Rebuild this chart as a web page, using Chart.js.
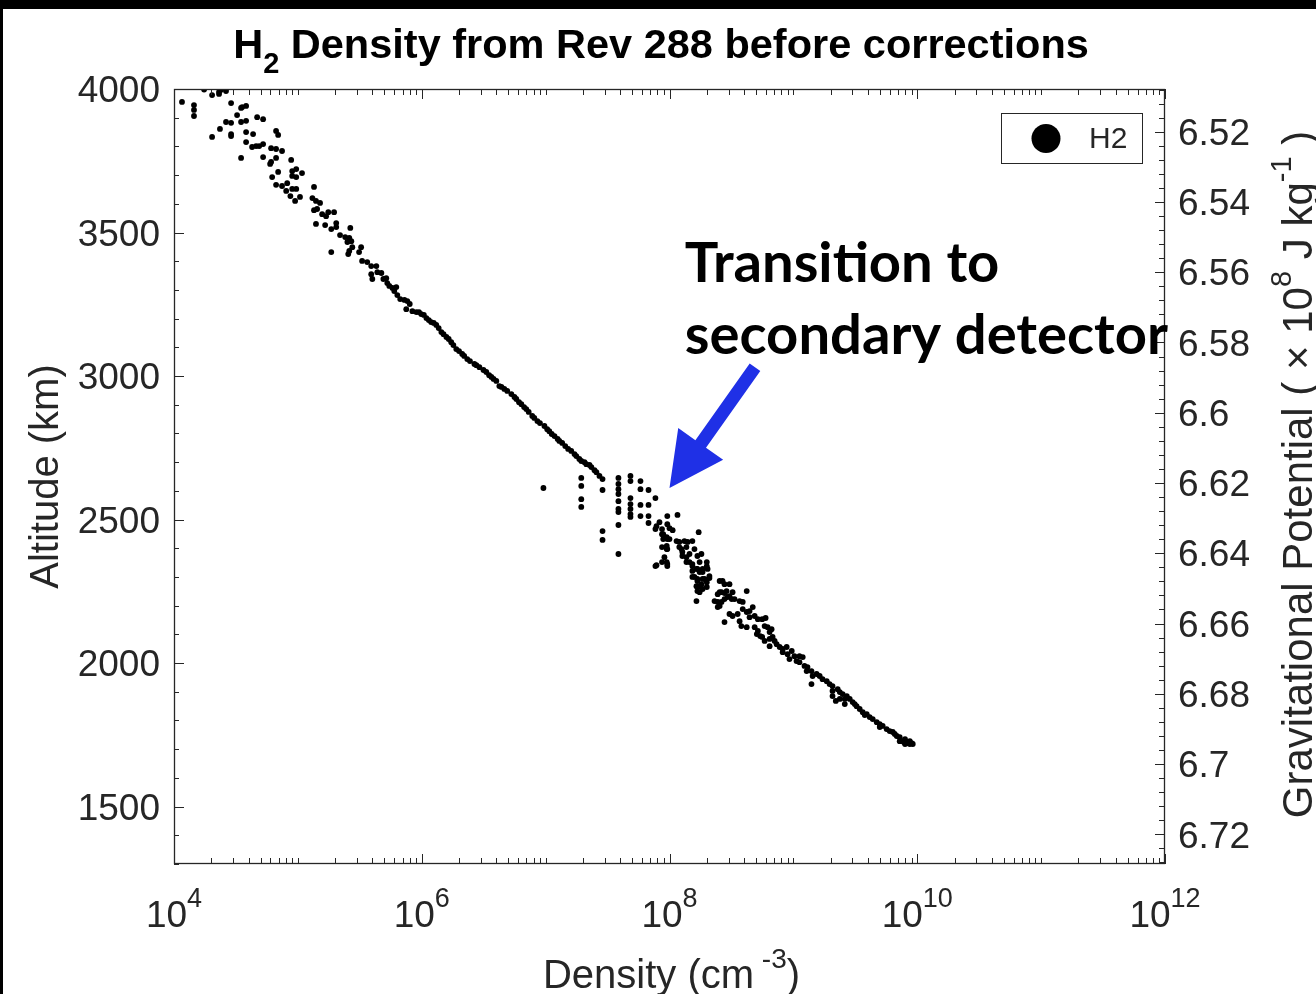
<!DOCTYPE html>
<html><head><meta charset="utf-8">
<script src="https://cdn.jsdelivr.net/npm/chart.js@4.4.1/dist/chart.umd.min.js"></script>
<style>html,body{margin:0;padding:0;background:#fff;overflow:hidden}canvas{display:block}</style>
</head><body>
<canvas id="c" width="1316" height="994"></canvas>
<script>
// ---- data: [density (cm^-3), altitude (km)] ----
const upperScatter = [
[1.16e4,3955],[1.45e4,3944],[1.45e4,3927],[1.45e4,3906],[1.75e4,3998],[2.03e4,3979],[2.31e4,3983],[2.31e4,3990],[2.4e4,3997],[2.63e4,3993],
[2.03e4,3833],[2.35e4,3861],[2.63e4,3885],[2.89e4,3951],[2.89e4,3882],[2.89e4,3843],[2.89e4,3836],[3.23e4,3909],[3.48e4,3934],[3.55e4,3937],
[3.82e4,3941],[3.48e4,3885],[3.82e4,3889],[3.48e4,3760],[3.82e4,3850],[3.82e4,3815],[4.35e4,3843],[4.69e4,3902],[5.24e4,3895],[4.27e4,3798],
[4.6e4,3801],[4.87e4,3801],[5.24e4,3808],[5.24e4,3763],[6.08e4,3794],[6.67e4,3791],[6.67e4,3854],[6.93e4,3840],[6.08e4,3746],[5.97e4,3739],
[6.67e4,3760],[7.45e4,3784],[6.2e4,3693],[6.93e4,3711],[8.83e4,3753],[9.0e4,3714],[9.7e4,3721],[9.0e4,3697],[9.7e4,3693],[1.08e5,3707],
[6.67e4,3666],[7.45e4,3662],[8.2e4,3672],[8.05e4,3645],[9.0e4,3652],[9.7e4,3652],[8.7e4,3627],[9.5e4,3610],[1.04e5,3624],[1.35e5,3659],
[1.31e5,3620],[1.40e5,3610],[1.51e5,3603],[1.35e5,3578],[1.43e5,3582],[1.57e5,3564],[1.69e5,3557],[1.76e5,3571],[1.96e5,3571],[1.40e5,3530],
[1.66e5,3526],[1.86e5,3512],[2.04e5,3533],[2.04e5,3519],[1.86e5,3432],[2.19e5,3491],[2.41e5,3484],[2.6e5,3481],[2.7e5,3470],[2.51e5,3467],
[2.65e5,3516],[2.75e5,3449],[2.6e5,3436],[2.55e5,3425],[3.24e5,3449],[3.12e5,3432],[3.3e5,3401],[3.63e5,3397],[3.91e5,3383],[4.3e5,3383],
[3.91e5,3355],[3.99e5,3338],[4.38e5,3362],[4.72e5,3359],[5.17e5,3341],[5.27e5,3324],[5.47e5,3314],[5.8e5,3307],[6.23e5,3310],[6.35e5,3282],
[6.7e5,3268],[7.25e5,3265],[7.65e5,3261],[7.5e5,3233],[8.4e5,3226],[9.05e5,3223],[9.9e5,3216],[1.09e6,3202],[1.19e6,3188],[1.31e6,3178],
[4.9e5,3338],[6.0e5,3296],[8.0e5,3251],[9.5e5,3223],[1.04e6,3213],[1.14e6,3195],[1.25e6,3185],[1.37e6,3167]
];
const mainLine = [
[1.44e6,3153],[1.5e6,3146],[1.58e6,3136],[1.65e6,3129],[1.73e6,3118],[1.8e6,3108],[1.90e6,3094],[2.0e6,3087],[2.12e6,3077],[2.2e6,3070],
[2.33e6,3059],[2.45e6,3052],[2.66e6,3042],[2.76e6,3038],[2.92e6,3031],[3.15e6,3021],[3.32e6,3014],[3.5e6,3003],[3.65e6,2997],[3.8e6,2990],
[4.0e6,2983],[4.23e6,2965],[4.4e6,2962],[4.64e6,2955],[4.9e6,2948],[5.29e6,2937],[5.6e6,2927],[5.8e6,2920],[6.1e6,2909],[6.37e6,2902],
[6.7e6,2892],[6.98e6,2885],[7.3e6,2875],[7.8e6,2861],[8.1e6,2854],[8.58e6,2843],[9.0e6,2836],[9.78e6,2826],[1.03e7,2815],[1.07e7,2808],
[1.12e7,2798],[1.18e7,2791],[1.25e7,2781],[1.29e7,2774],[1.36e7,2767],[1.44e7,2756],[1.52e7,2746],[1.61e7,2739],[1.71e7,2728],[1.77e7,2721],
[1.87e7,2711],[1.94e7,2704],[2.06e7,2700],[2.13e7,2693],[2.26e7,2690],[2.34e7,2683],[2.48e7,2672],[2.57e7,2665],[2.72e7,2652],[2.88e7,2641]
];
const transitionCluster = [
[9.6e6,2610],
[1.94e7,2645],[1.94e7,2617],[1.94e7,2571],[1.94e7,2544],
[2.88e7,2603],[2.88e7,2460],[2.88e7,2429],
[3.87e7,2645],[3.87e7,2624],[3.87e7,2606],[3.87e7,2589],[3.87e7,2564],[3.87e7,2537],[3.87e7,2526],[3.87e7,2481],[3.87e7,2380],
[4.84e7,2652],[4.84e7,2634],[4.84e7,2575],[4.84e7,2554],[4.84e7,2537],[4.84e7,2519],[4.84e7,2509],
[5.83e7,2634],[5.83e7,2606],[5.83e7,2551],[5.83e7,2512],
[6.77e7,2603],[6.77e7,2551],[6.77e7,2512],[6.77e7,2488],
[7.7e7,2575],[7.85e7,2477],[8.3e7,2491],[8.7e7,2467],[8.9e7,2449],[9.6e7,2512],[1.16e8,2516],[9.6e7,2484],[1.0e8,2470],[9.5e7,2439],
[1.0e8,2432],[9.5e7,2408],[9.6e7,2397],[9.1e7,2369],[9.6e7,2345],[7.85e7,2341],[8.7e7,2352],
[7.7e7,2467],[1.06e8,2463],[8.7e7,2449],[8.9e7,2432],[9.6e7,2432],[8.7e7,2404],[9.5e7,2397],[7.7e7,2338],[9.5e7,2352],[9.6e7,2338],
[1.72e8,2456]
];
const lowerBranch = [
[1.14e8,2425],[1.2e8,2422],[1.32e8,2425],[1.4e8,2422],[1.53e8,2425],
[1.2e8,2404],[1.27e8,2387],[1.37e8,2369],[1.45e8,2352],[1.53e8,2338],[1.65e8,2328],[1.75e8,2317],[1.59e8,2300],[1.68e8,2286],[1.85e8,2293],
[1.75e8,2268],[1.85e8,2258],[2.0e8,2338],[2.1e8,2303],[1.85e8,2328],[2.0e8,2282],
[2.68e8,2286],[3.05e8,2275],[2.89e8,2251],[3.23e8,2247],[2.63e8,2247],
[1.25e8,2397],[1.37e8,2404],[1.59e8,2397],[1.27e8,2373],[1.45e8,2380],[1.68e8,2373],[1.81e8,2380],[1.37e8,2352],[1.53e8,2345],[1.75e8,2352],
[2.0e8,2352],[1.53e8,2321],[1.68e8,2328],[1.85e8,2317],[2.03e8,2328],[1.53e8,2300],[1.68e8,2293],[1.92e8,2293],[2.1e8,2296],[1.65e8,2268],
[1.81e8,2275],[2.0e8,2265],[1.68e8,2251],[1.75e8,2247],[1.65e8,2216],
[2.54e8,2286],[2.78e8,2275],[2.31e8,2216],[2.45e8,2213],[2.63e8,2213],[2.78e8,2223],[2.95e8,2230],[3.18e8,2223],[2.45e8,2240],[2.54e8,2247],
[2.78e8,2244],[3.05e8,2233],[3.35e8,2223],[3.68e8,2216],[3.9e8,2213],[4.2e8,2251],[2.45e8,2195],[2.54e8,2199],[3.05e8,2171],[3.23e8,2164],
[3.55e8,2171],[2.78e8,2143],[3.68e8,2146],[3.8e8,2129],[4.2e8,2125],[3.9e8,2188],[4.2e8,2178],[4.43e8,2181],[4.7e8,2195],[4.43e8,2160],
[4.87e8,2164],[5.17e8,2153],[5.6e8,2153],[5.97e8,2157],[4.87e8,2125],[5.17e8,2112],[5.07e8,2101],[5.4e8,2094],[5.86e8,2129],[6.2e8,2125],
[6.67e8,2118],[6.43e8,2108],[5.6e8,2091],[5.86e8,2077],[6.43e8,2084],[6.8e8,2091],[7.06e8,2077],[6.43e8,2059],[7.33e8,2066],[7.75e8,2056],
[8.2e8,2049],[8.83e8,2056],[8.2e8,2038],[8.98e8,2031],[9.7e8,2042],[1.02e9,2024],[1.12e9,2024],[1.19e9,2021],[9.3e8,2014],[1.06e9,2007],
[1.12e9,2003],[1.23e9,1990],[1.3e9,1986],[1.28e9,1972],[1.4e9,1972],[1.43e9,1955],[1.54e9,1962],[1.63e9,1955],[1.72e9,1944],[1.4e9,1927],
[1.86e9,1937],[1.96e9,1927],[2.07e9,1920],[2.28e9,1909],[2.37e9,1899],[2.5e9,1892],[2.7e9,1885],[2.85e9,1875],[3.01e9,1864],[3.24e9,1850],
[3.43e9,1840],[3.63e9,1829],[3.91e9,1822],[4.13e9,1812],[4.37e9,1805],[4.71e9,1794],[4.98e9,1787],[5.26e9,1781],[5.66e9,1770],[5.99e9,1763],
[6.34e9,1760],[6.83e9,1746],[7.22e9,1742],[7.64e9,1728],[8.23e9,1725],[8.71e9,1718],[2.07e9,1903],[2.6e9,1875],[3.13e9,1857],[3.77e9,1819],
[4.98e9,1777],[6.58e9,1753],[7.97e9,1718],[8.4e9,1725],[7.22e9,1728],[7.97e9,1735],[8.71e9,1728],[9.0e9,1721],[9.2e9,1718],[2.07e9,1885],
[2.37e9,1875],[2.2e9,1868],[2.6e9,1857],[8.1e9,1721],[8.6e9,1721],[7.8e9,1725]
];

// ---- axes / ticks ----
const xMajorTicks = [1e4, 1e6, 1e8, 1e10, 1e12];
const xTickExponents = ['4', '6', '8', '10', '12'];
const altitudeTicks = [1500, 2000, 2500, 3000, 3500, 4000];
const potentialTicks = [6.52, 6.54, 6.56, 6.58, 6.6, 6.62, 6.64, 6.66, 6.68, 6.7, 6.72];
const potentialLabels = ['6.52','6.54','6.56','6.58','6.6','6.62','6.64','6.66','6.68','6.7','6.72'];

// ---- annotation (data coordinates) ----
const annotationLines = ['Transition to', 'secondary detector'];
const annotationAnchor = { density: 1.33e8, altitudes: [3328, 3077] };
const arrowTip = { density: 1.0e8, altitude: 2610 };
const arrowTail = { density: 4.9e8, altitude: 3031 };

const FONT = "'Liberation Sans', Arial, Helvetica, sans-serif";
const INK = '#262626';
Chart.defaults.font.family = FONT;
Chart.defaults.color = INK;

function drawRich(ctx, parts, x, y, align) {
  let total = 0;
  parts.forEach(p => { ctx.font = (p.b ? 'bold ' : '') + p.s + 'px ' + FONT; p.w = ctx.measureText(p.t).width; total += p.w; });
  let cx = align === 'center' ? x - total / 2 : (align === 'right' ? x - total : x);
  ctx.textAlign = 'left'; ctx.textBaseline = 'alphabetic';
  parts.forEach(p => { ctx.font = (p.b ? 'bold ' : '') + p.s + 'px ' + FONT; ctx.fillText(p.t, cx, y + (p.dy || 0)); cx += p.w; });
}

const framePlugin = {
  id: 'frame',
  beforeDraw(chart) {
    const c = chart.ctx;
    c.save();
    c.fillStyle = '#fff'; c.fillRect(0, 0, chart.width, chart.height);
    c.fillStyle = '#000'; c.fillRect(0, 0, chart.width, 9); c.fillRect(0, 0, 3, chart.height);
    c.restore();
  },
  afterDraw(chart) {
    const c = chart.ctx;
    const { left, right, top, bottom } = chart.chartArea;
    const xs = chart.scales.x, ys = chart.scales.y, y2 = chart.scales.y2;
    c.save();
    // frame
    c.strokeStyle = INK; c.lineWidth = 1.3;
    c.strokeRect(left + 0.5, top + 0.5, right - left - 1, bottom - top - 1);
    // x ticks (inward, bottom and top)
    c.lineWidth = 1;
    c.beginPath();
    for (let e = 4; e <= 12; e++) {
      for (let m = 1; m <= 9; m++) {
        if (e === 12 && m > 1) break;
        const v = m * Math.pow(10, e);
        const px = Math.round(xs.getPixelForValue(v)) + 0.5;
        const major = (m === 1 && e % 2 === 0);
        const len = major ? 10 : 6;
        c.moveTo(px, bottom); c.lineTo(px, bottom - len);
        c.moveTo(px, top); c.lineTo(px, top + len);
      }
    }
    // left altitude ticks
    for (let v = 1300; v <= 4000; v += 100) {
      const py = Math.round(ys.getPixelForValue(v)) + 0.5;
      const len = v % 500 === 0 ? 10 : 5;
      c.moveTo(left, py); c.lineTo(left + len, py);
    }
    // right potential ticks
    for (let i = 0; i <= 60; i++) {
      const v = 6.508 + 0.004 * i;
      if (v > y2.max) break;
      const py = Math.round(y2.getPixelForValue(v)) + 0.5;
      const major = potentialTicks.some(t => Math.abs(t - v) < 1e-6);
      const len = major ? 10 : 6;
      c.moveTo(right, py); c.lineTo(right - len, py);
    }
    c.stroke();

    // x tick labels 10^n
    c.fillStyle = INK;
    xMajorTicks.forEach((v, i) => {
      const px = xs.getPixelForValue(v);
      drawRich(c, [{ t: '10', s: 37 }, { t: xTickExponents[i], s: 27, dy: -20 }], px, 927, 'center');
    });
    // x title
    drawRich(c, [{ t: 'Density (cm', s: 40 }, { t: ' -3', s: 28, dy: -20 }, { t: ')', s: 40 }], (left + right) / 2 + 2, 988, 'center');
    // right title (rotated)
    c.save();
    c.translate(1312, (top + bottom) / 2 - 2);
    c.rotate(-Math.PI / 2);
    drawRich(c, [{ t: 'Gravitational Potential ( \u00d7 10', s: 42 }, { t: '8', s: 29, dy: -21 }, { t: ' J kg', s: 42 }, { t: '-1', s: 29, dy: -21 }, { t: ' )', s: 42 }], 0, 0, 'center');
    c.restore();
    // chart title
    c.fillStyle = '#000';
    drawRich(c, [{ t: 'H', s: 41.5, b: true }, { t: '2', s: 29, b: true, dy: 15 }, { t: ' Density from Rev 288 before corrections', s: 41.5, b: true }], 661, 58, 'center');

    // legend
    c.fillStyle = '#fff'; c.fillRect(1001, 113, 141, 50);
    c.strokeStyle = INK; c.lineWidth = 1; c.strokeRect(1001.5, 113.5, 141, 50);
    c.fillStyle = '#000'; c.beginPath(); c.arc(1046, 138.5, 14.5, 0, Math.PI * 2); c.fill();
    c.fillStyle = INK; c.font = '30px ' + FONT; c.textAlign = 'left'; c.textBaseline = 'middle';
    c.fillText(chart.data.datasets[0].label, 1089, 140);

    // annotation text
    c.fillStyle = '#000';
    c.font = 'bold 50px Lato, ' + FONT;
    const w = c.measureText(annotationLines[1]).width;
    const fs = 50 * 483 / w;
    c.font = 'bold ' + fs.toFixed(1) + 'px Lato, ' + FONT;
    c.textAlign = 'left'; c.textBaseline = 'alphabetic';
    const ax = xs.getPixelForValue(annotationAnchor.density);
    annotationLines.forEach((t, i) => c.fillText(t, ax, ys.getPixelForValue(annotationAnchor.altitudes[i])));

    // arrow
    const tx = xs.getPixelForValue(arrowTip.density), ty = ys.getPixelForValue(arrowTip.altitude);
    const sx = xs.getPixelForValue(arrowTail.density), sy = ys.getPixelForValue(arrowTail.altitude);
    const dx = tx - sx, dy = ty - sy, L = Math.hypot(dx, dy);
    const ux = dx / L, uy = dy / L, nx = -uy, ny = ux;
    const headLen = 54, headHalf = 27.5, shaftHalf = 6.5;
    const bx = tx - ux * headLen, by = ty - uy * headLen;
    c.fillStyle = '#1f30e6';
    c.beginPath();
    c.moveTo(sx + nx * shaftHalf, sy + ny * shaftHalf);
    c.lineTo(bx + nx * shaftHalf, by + ny * shaftHalf);
    c.lineTo(bx + nx * headHalf, by + ny * headHalf);
    c.lineTo(tx, ty);
    c.lineTo(bx - nx * headHalf, by - ny * headHalf);
    c.lineTo(bx - nx * shaftHalf, by - ny * shaftHalf);
    c.lineTo(sx - nx * shaftHalf, sy - ny * shaftHalf);
    c.closePath();
    c.fill();
    c.restore();
  }
};

const allPoints = [...upperScatter, ...mainLine, ...transitionCluster, ...lowerBranch].map(p => ({ x: p[0], y: p[1] }));

new Chart(document.getElementById('c'), {
  type: 'scatter',
  data: {
    datasets: [{
      label: 'H2',
      data: allPoints,
      pointRadius: 2.9,
      pointHoverRadius: 2.9,
      backgroundColor: '#000',
      borderWidth: 0,
      yAxisID: 'y'
    }]
  },
  options: {
    responsive: false,
    animation: false,
    devicePixelRatio: 1,
    events: [],
    layout: { padding: { top: 89, left: 0, right: 0, bottom: 0 } },
    plugins: { legend: { display: false }, tooltip: { enabled: false }, title: { display: false } },
    scales: {
      x: {
        type: 'logarithmic', position: 'bottom', min: 1e4, max: 1e12,
        grid: { display: false, drawTicks: false }, border: { display: false },
        ticks: { display: false },
        afterFit(s) { s.height = 130; }
      },
      y: {
        type: 'linear', position: 'left', min: 1300, max: 4000,
        grid: { display: false, drawTicks: false }, border: { display: false },
        afterBuildTicks(s) { s.ticks = altitudeTicks.map(v => ({ value: v })); },
        ticks: { font: { size: 37 }, color: INK, padding: 14, labelOffset: 3, autoSkip: false, callback: v => String(v) },
        title: { display: true, text: 'Altitude (km)', font: { size: 40 }, color: INK, padding: { top: 23, bottom: 0 } },
        afterFit(s) { s.width = 174; }
      },
      y2: {
        type: 'linear', position: 'right', reverse: true, min: 6.50785, max: 6.72845,
        grid: { display: false, drawTicks: false }, border: { display: false },
        afterBuildTicks(s) { s.ticks = potentialTicks.map(v => ({ value: v })); },
        ticks: { font: { size: 37 }, color: INK, padding: 13, labelOffset: 3, autoSkip: false, callback: (v, i) => potentialLabels[i] },
        afterFit(s) { s.width = 151; }
      }
    }
  },
  plugins: [framePlugin]
});
</script>
</body></html>
